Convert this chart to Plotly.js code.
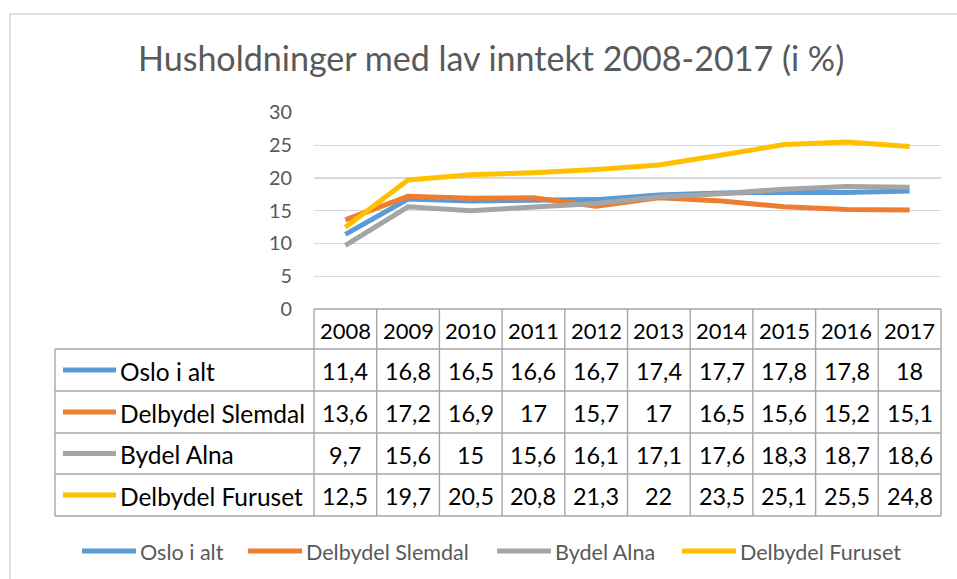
<!DOCTYPE html>
<html><head><meta charset="utf-8">
<script src="https://cdn.plot.ly/plotly-3.0.1.min.js"></script>
<style>html,body{margin:0;padding:0;background:#fff;overflow:hidden}</style>
</head><body><div id="chart" style="width:957px;height:579px"></div>
<script>
// ---- data ----
const years = ['2008','2009','2010','2011','2012','2013','2014','2015','2016','2017'];
const seriesNames = ['Oslo i alt','Delbydel Slemdal','Bydel Alna','Delbydel Furuset'];
const osloIAlt        = [11.4,16.8,16.5,16.6,16.7,17.4,17.7,17.8,17.8,18];
const delbydelSlemdal = [13.6,17.2,16.9,17,15.7,17,16.5,15.6,15.2,15.1];
const bydelAlna       = [9.7,15.6,15,15.6,16.1,17.1,17.6,18.3,18.7,18.6];
const delbydelFuruset = [12.5,19.7,20.5,20.8,21.3,22,23.5,25.1,25.5,24.8];
const yTicks = [0,5,10,15,20,25,30];
const chartTitle = 'Husholdninger med lav inntekt 2008-2017 (i %)';

// ---- styling ----
const seriesValues = [osloIAlt, delbydelSlemdal, bydelAlna, delbydelFuruset];
const colors = ['#5B9BD5','#ED7D31','#A5A5A5','#FFC000'];
const W = 957, H = 579;
const FONT = 'Lato';
const px = x => x / W;
const py = y => 1 - y / H;
function fit(text, target){
  const c = document.createElement('canvas').getContext('2d');
  c.font = '100px "' + FONT + '"';
  return 100 * target / c.measureText(text).width;
}
const fmt = v => String(v).replace('.', ',');

const X0 = 314, X1 = 941, LX = 55;
const rowY = [309, 349, 391, 433, 474, 516];
const labelSize = fit('Delbydel Slemdal', 185);
const numSize = fit('16,6', 46);
const headSize = fit('2008', 51);
const tickSize = fit('30', 23);
const titleSize = fit(chartTitle, 708);
const legSize = fit('Delbydel Furuset', 161);
const tableLine = {color:'#A6A6A6', width:1.4};

const traces = seriesValues.map((vals, i) => ({
  type:'scatter', mode:'lines', x: years, y: vals, name: seriesNames[i],
  line:{color: colors[i], width:5}, hoverinfo:'skip'
}));

const shapes = [];
const annotations = [];

// outer chart border
shapes.push({type:'rect', xref:'paper', yref:'paper', x0:px(10), x1:px(970), y0:py(14), y1:py(600),
  line:{color:'#D9D9D9', width:1.6}, fillcolor:'rgba(0,0,0,0)'});

// title
annotations.push({xref:'paper', yref:'paper', x:px(491), y:py(58), xanchor:'center', yanchor:'middle',
  text: chartTitle, showarrow:false, font:{family:FONT, size:titleSize, color:'#595959'}});

// table grid: vertical lines
const colW = (X1 - X0) / years.length;
for (let k = 0; k <= years.length; k++) {
  const x = X0 + k * colW;
  shapes.push({type:'line', xref:'paper', yref:'paper', x0:px(x), x1:px(x), y0:py(rowY[0]), y1:py(rowY[5]), line:tableLine});
}
shapes.push({type:'line', xref:'paper', yref:'paper', x0:px(LX), x1:px(LX), y0:py(rowY[1]), y1:py(rowY[5]), line:tableLine});
// horizontal lines
shapes.push({type:'line', xref:'paper', yref:'paper', x0:px(X0), x1:px(X1), y0:py(rowY[0]), y1:py(rowY[0]), line:tableLine});
for (let r = 1; r < rowY.length; r++) {
  shapes.push({type:'line', xref:'paper', yref:'paper', x0:px(LX), x1:px(X1), y0:py(rowY[r]), y1:py(rowY[r]), line:tableLine});
}

// header row (years)
years.forEach((yr, i) => {
  annotations.push({xref:'x', yref:'paper', x:i, y:py((rowY[0]+rowY[1])/2 + 1), xanchor:'center', yanchor:'middle',
    text: yr, showarrow:false, font:{family:FONT, size:headSize, color:'#000'}});
});
// data rows
seriesNames.forEach((name, s) => {
  const cy = (rowY[s+1] + rowY[s+2]) / 2 + 1;
  shapes.push({type:'line', xref:'paper', yref:'paper', x0:px(63), x1:px(116), y0:py(cy-1), y1:py(cy-1),
    line:{color:colors[s], width:5}});
  annotations.push({xref:'paper', yref:'paper', x:px(118), y:py(cy), xanchor:'left', yanchor:'middle',
    text: name, showarrow:false, font:{family:FONT, size:labelSize, color:'#000'}});
  seriesValues[s].forEach((v, i) => {
    annotations.push({xref:'x', yref:'paper', x:i, y:py(cy), xanchor:'center', yanchor:'middle',
      text: fmt(v), showarrow:false, font:{family:FONT, size:numSize, color:'#000'}});
  });
});

// bottom legend
const legStarts = [82, 248, 497, 682];
const legY = 552;
seriesNames.forEach((name, s) => {
  shapes.push({type:'line', xref:'paper', yref:'paper', x0:px(legStarts[s]), x1:px(legStarts[s]+54), y0:py(legY-1), y1:py(legY-1),
    line:{color:colors[s], width:5}});
  annotations.push({xref:'paper', yref:'paper', x:px(legStarts[s]+56), y:py(legY), xanchor:'left', yanchor:'middle',
    text: name, showarrow:false, font:{family:FONT, size:legSize, color:'#595959'}});
});

const layout = {
  width:W, height:H, margin:{l:0, r:0, t:0, b:0},
  paper_bgcolor:'#fff', plot_bgcolor:'#fff', showlegend:false,
  xaxis:{type:'category', domain:[px(X0), px(X1)], range:[-0.5, 9.5], showgrid:false, zeroline:false,
    showticklabels:false, ticks:'', showline:false, fixedrange:true},
  yaxis:{domain:[py(309), py(112.5)], range:[0, 30], tickvals:yTicks, ticktext:yTicks.map(String),
    showgrid:true, gridcolor:'#D9D9D9', gridwidth:1.3, zeroline:false, showline:false, ticks:'',
    ticklabelstandoff:21, tickfont:{family:FONT, size:tickSize, color:'#595959'}, fixedrange:true},
  shapes, annotations
};
Plotly.newPlot('chart', traces, layout, {staticPlot:true, displayModeBar:false});
</script>
</body></html>
